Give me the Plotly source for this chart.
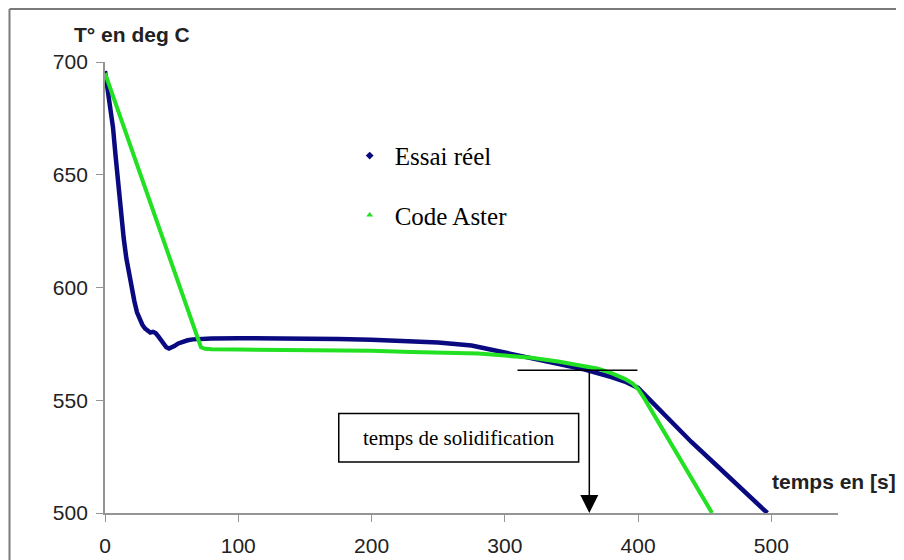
import plotly.graph_objects as go

# --- Data ---
essai_t = [0, 1, 2, 3, 4, 6, 8, 10, 12, 14, 16, 18, 20, 22, 24, 26, 28, 30, 32, 34,
           36, 38, 40, 42, 44, 46, 48, 50, 52, 55, 58, 62, 66, 70, 80, 100, 125, 150,
           175, 200, 225, 250, 275, 300, 320, 340, 360, 380, 390, 400, 410, 420, 440,
           460, 480, 497]
essai_temp = [696, 692, 687, 683, 679, 671, 658, 645, 633, 622, 613, 606, 600, 594,
              589, 585.5, 583.5, 581.8, 580.6, 580, 580.3, 579.8, 578.3, 576.5, 574.8,
              573.5, 572.9, 573.2, 574, 575.2, 576, 576.6, 577, 577.2, 577.4, 577.5,
              577.5, 577.4, 577.2, 576.8, 576.3, 575.6, 574.3, 571.2, 568.8, 566.5,
              563.6, 560.3, 558.3, 555.5, 549.5, 543.5, 531.5, 520.5, 509.5, 500]

aster_t = [0, 10, 20, 30, 40, 50, 60, 70, 72, 75, 80, 100, 150, 200, 230, 250, 280,
           300, 320, 340, 360, 370, 380, 390, 396, 400, 405, 410, 415, 420, 430, 440,
           450, 455.5]
aster_temp = [695, 678, 661, 644, 627.5, 610.5, 593.5, 576.5, 573.5, 572.8, 572.6,
              572.5, 572.3, 572, 571.4, 571.2, 570.7, 569.8, 568.8, 567.2, 565.3, 564,
              562, 559.5, 557.4, 555, 550.5, 545.5, 540.8, 535.5, 525.5, 515.5, 505.5,
              500]

x_ticks = [0, 100, 200, 300, 400, 500]
y_ticks = [500, 550, 600, 650, 700]

# solidification marker
solid_t = 363.4
solid_temp = 563.3

NAVY = '#0a0a80'
GREEN = '#22e022'
GREY = '#959595'

fig = go.Figure()
fig.add_trace(go.Scatter(x=essai_t, y=essai_temp, mode='lines',
                         line=dict(color=NAVY, width=4.5), showlegend=False))
fig.add_trace(go.Scatter(x=aster_t, y=aster_temp, mode='lines',
                         line=dict(color=GREEN, width=4), showlegend=False))
# legend entries (markers only, like the original)
fig.add_trace(go.Scatter(x=[None], y=[None], mode='markers', name='Essai réel',
                         legendgroup='a',
                         marker=dict(symbol='diamond', size=6, color=NAVY)))
fig.add_trace(go.Scatter(x=[None], y=[None], mode='markers', name='Code Aster',
                         legendgroup='b',
                         marker=dict(symbol='triangle-up', size=6, color=GREEN)))

axis_font = dict(family='Liberation Sans, Arial', size=21, color='#222')
serif = 'Liberation Serif, Times New Roman'

fig.update_layout(
    width=888, height=552,
    margin=dict(l=97, r=58, t=54, b=47),
    paper_bgcolor='white', plot_bgcolor='white',
    xaxis=dict(range=[0, 550], tickvals=x_ticks, showgrid=False, zeroline=False,
               showline=True, linecolor=GREY, linewidth=1.8, automargin=False,
               ticks='outside', ticklen=7, tickcolor=GREY, tickwidth=1.2,
               ticklabelstandoff=6, tickfont=axis_font),
    yaxis=dict(range=[500, 700], tickvals=y_ticks, showgrid=False, zeroline=False,
               showline=True, linecolor=GREY, linewidth=1.8, automargin=False,
               ticks='outside', ticklen=7, tickcolor=GREY, tickwidth=1.2,
               ticklabelstandoff=4, tickfont=axis_font),
    legend=dict(x=0.327, y=0.843, xanchor='left', yanchor='top', itemwidth=40,
                font=dict(family=serif, size=25, color='black'),
                tracegroupgap=24, bgcolor='rgba(0,0,0,0)'),
)

# axis titles
fig.add_annotation(text='<b>T° en deg C</b>', xref='paper', yref='paper',
                   x=0.0375, y=1.06, xanchor='center', yanchor='middle',
                   showarrow=False, font=axis_font)
fig.add_annotation(text='<b>temps en [s]</b>', xref='paper', yref='paper',
                   x=0.995, y=0.069, xanchor='center', yanchor='middle',
                   showarrow=False, font=axis_font)

# outer frame of the original chart (top and left edges are visible)
frame = dict(color='#7a7a7a', width=2)
fig.add_shape(type='line', xref='paper', yref='paper',
              x0=-0.1303, x1=1.08, y0=1.1175, y1=1.1175, line=frame)
fig.add_shape(type='line', xref='paper', yref='paper',
              x0=-0.1303, x1=-0.1303, y0=-0.12, y1=1.1175, line=frame)

# solidification annotation
fig.add_shape(type='line', x0=309.5, x1=399.5, y0=solid_temp, y1=solid_temp,
              line=dict(color='black', width=1.5))
fig.add_annotation(x=solid_t, y=500, ax=solid_t, ay=solid_temp,
                   axref='x', ayref='y', showarrow=True, arrowhead=2,
                   arrowsize=2.4, arrowwidth=1.5, arrowcolor='black', text='',
                   standoff=0)
fig.add_shape(type='rect', x0=175.4, x1=355.4, y0=522.6, y1=544.1,
              line=dict(color='black', width=1.5), fillcolor='white')
fig.add_annotation(text='temps de solidification', x=265.4, y=533.4,
                   showarrow=False, font=dict(family=serif, size=21, color='black'))

fig.write_html("out.html")
